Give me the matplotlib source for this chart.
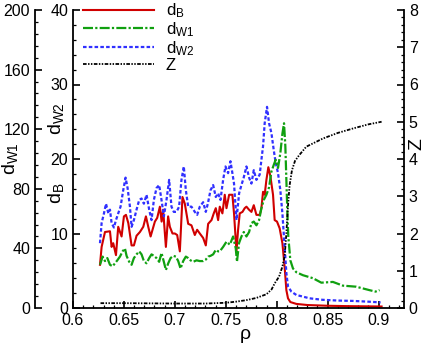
import matplotlib
matplotlib.use("Agg")
import matplotlib.pyplot as plt
from matplotlib.ticker import MultipleLocator

plt.rcParams["font.family"] = ["Liberation Sans", "DejaVu Sans"]
plt.rcParams["mathtext.default"] = "regular"

# d_B (eje interior, 0-40)
rho_b = [0.6265, 0.6281, 0.6314, 0.6363, 0.6379, 0.6395, 0.6422, 0.6444, 0.6477, 0.6500,
         0.6520, 0.6543, 0.6575, 0.6598, 0.6624, 0.6657, 0.6690, 0.6716, 0.6739, 0.6762,
         0.6804, 0.6827, 0.6853, 0.6870, 0.6885, 0.6912, 0.6934, 0.6951, 0.6977, 0.7000,
         0.7023, 0.7049, 0.7075, 0.7098, 0.7131, 0.7163, 0.7196, 0.7219, 0.7245, 0.7278,
         0.7304, 0.7327, 0.7360, 0.7382, 0.7402, 0.7425, 0.7441, 0.7467, 0.7490, 0.7507,
         0.7533, 0.7565, 0.7581, 0.7605, 0.7621, 0.7637, 0.7664, 0.7686, 0.7703, 0.7728,
         0.7752, 0.7775, 0.7801, 0.7833, 0.7850, 0.7866, 0.7882, 0.7899, 0.7918, 0.7938,
         0.7964, 0.7980, 0.8003, 0.8029, 0.8056, 0.8078, 0.8095, 0.8111, 0.8134, 0.8193,
         0.830, 0.850, 0.870, 0.903]
d_b = [5.8, 8.2, 10.2, 10.3, 8.2, 8.7, 7.1, 10.9, 9.6, 12.3,
       12.5, 11.4, 8.4, 8.4, 9.7, 10.2, 10.9, 12.3, 10.9, 9.6,
       11.6, 12.1, 13.6, 11.6, 13.2, 8.2, 12.3, 10.9, 10.0, 10.0,
       9.8, 7.6, 14.9, 14.0, 11.3, 11.1, 9.8, 10.5, 10.0, 9.4,
       8.4, 11.3, 11.8, 12.7, 13.4, 11.8, 13.6, 12.7, 15.2, 13.4,
       15.2, 15.2, 12.7, 7.6, 10.5, 12.7, 12.9, 13.4, 13.6, 13.2,
       12.9, 13.8, 12.5, 12.5, 13.4, 15.6, 15.2, 17.2, 18.9, 17.7,
       15.2, 11.8, 11.6, 10.7, 8.7, 5.5, 2.4, 1.3, 0.8, 0.55,
       0.4, 0.3, 0.25, 0.2]

# d_W2 (eje interior, 0-40)
rho_w2 = [0.6265, 0.6281, 0.6304, 0.6324, 0.6347, 0.6363, 0.6379, 0.6402, 0.6422, 0.6444,
          0.6467, 0.6493, 0.6516, 0.6536, 0.6559, 0.6575, 0.6598, 0.6624, 0.6650, 0.6673,
          0.6696, 0.6722, 0.6748, 0.6771, 0.6794, 0.6820, 0.6846, 0.6869, 0.6892, 0.6918,
          0.6944, 0.6967, 0.6990, 0.7016, 0.7042, 0.7065, 0.7088, 0.7108, 0.7131, 0.7163,
          0.7196, 0.7219, 0.7245, 0.7278, 0.7304, 0.7327, 0.7350, 0.7376, 0.7402, 0.7425,
          0.7448, 0.7474, 0.7497, 0.7523, 0.7546, 0.7565, 0.7581, 0.7605, 0.7631, 0.7654,
          0.7676, 0.7703, 0.7729, 0.7752, 0.7775, 0.7801, 0.7833, 0.7850, 0.7866, 0.7882,
          0.7905, 0.7925, 0.7948, 0.7971, 0.7990, 0.8013, 0.8036, 0.8056, 0.8078, 0.8095,
          0.8111, 0.8144, 0.8193, 0.8323, 0.845, 0.860, 0.875, 0.890, 0.902]
d_w2 = [8.7, 11.4, 12.7, 14.0, 12.7, 13.2, 11.4, 10.8, 11.8, 12.7,
        13.6, 15.8, 17.5, 16.1, 13.6, 10.9, 11.8, 13.2, 14.5, 14.7,
        14.0, 15.2, 13.2, 11.8, 14.5, 16.1, 16.5, 14.5, 12.3, 14.5,
        17.2, 13.6, 12.9, 12.9, 13.6, 17.2, 19.0, 15.8, 13.6, 13.6,
        12.9, 12.5, 13.6, 14.2, 12.9, 14.2, 15.8, 16.5, 14.9, 15.4,
        14.5, 17.2, 19.0, 18.1, 19.7, 18.1, 16.7, 11.8, 15.4, 16.5,
        17.5, 19.0, 17.5, 16.7, 18.5, 17.2, 17.9, 19.9, 21.7, 24.8,
        27.0, 24.8, 23.5, 21.2, 19.5, 18.1, 15.8, 12.7, 8.2, 4.7,
        2.9, 2.2, 1.75, 1.3, 1.1, 1.0, 0.95, 0.85, 0.75]

# d_W1 (eje exterior, 0-200)
rho_w1 = [0.6265, 0.6291, 0.6314, 0.6337, 0.6363, 0.6389, 0.6412, 0.6435, 0.6461, 0.6487,
          0.6510, 0.6526, 0.6552, 0.6575, 0.6598, 0.6624, 0.6650, 0.6673, 0.6696, 0.6722,
          0.6748, 0.6771, 0.6794, 0.6820, 0.6846, 0.6869, 0.6892, 0.6912, 0.6935, 0.6958,
          0.6984, 0.7010, 0.7033, 0.7056, 0.7082, 0.7108, 0.7131, 0.7154, 0.7180, 0.7213,
          0.7245, 0.7278, 0.7304, 0.7327, 0.7350, 0.7376, 0.7402, 0.7425, 0.7441, 0.7474,
          0.7507, 0.7540, 0.7572, 0.7598, 0.7610, 0.7630, 0.7654, 0.7677, 0.7703, 0.7729,
          0.7752, 0.7775, 0.7801, 0.7827, 0.7850, 0.7873, 0.7899, 0.7925, 0.7948, 0.7971,
          0.7990, 0.8013, 0.8036, 0.8056, 0.8072, 0.8085, 0.8095, 0.8105, 0.8114, 0.8134,
          0.8160, 0.8193, 0.8258, 0.8356, 0.8438, 0.8552, 0.865, 0.878, 0.891, 0.897, 0.901]
d_w1 = [29, 34.5, 31.5, 33.5, 29, 28, 30, 32, 34.5, 38,
        40, 35, 31, 29, 33.5, 36, 38, 36, 31.5, 30,
        33.5, 36, 35, 33.5, 31, 37, 31, 25.5, 30, 33.5,
        35, 34.5, 31.5, 26.5, 31.5, 34.5, 33.5, 32, 31, 32,
        31.5, 31.5, 32.5, 34.5, 35, 36, 39, 38, 38, 41,
        44.5, 42.5, 48, 40, 31, 43.5, 48, 51, 48, 51,
        57, 58, 55.5, 59, 67, 72.5, 76, 81, 91.5, 96,
        99.5, 94, 104, 117, 124, 108.5, 86, 63.5, 48, 32,
        26.5, 24, 22, 20, 17, 17.5, 15, 14.3, 12, 11, 12]

# Z (eje derecho, 0-8)
rho_z = [0.627, 0.65, 0.70, 0.73, 0.75, 0.76, 0.77, 0.78, 0.79, 0.795,
         0.798, 0.8023, 0.8056, 0.8078, 0.8095, 0.8111, 0.8127, 0.815, 0.818, 0.822,
         0.829, 0.8454, 0.86, 0.875, 0.89, 0.903]
z = [0.13, 0.13, 0.12, 0.12, 0.14, 0.17, 0.21, 0.27, 0.37, 0.5,
     0.66, 0.84, 1.11, 1.4, 2.0, 2.75, 3.3, 3.7, 3.95, 4.1,
     4.33, 4.55, 4.7, 4.82, 4.93, 5.0]

x_ticks = [0.6, 0.65, 0.7, 0.75, 0.8, 0.85, 0.9]
x_tick_labels = ["0.6", "0.65", "0.7", "0.75", "0.8", "0.85", "0.9"]

fig = plt.figure(figsize=(4.29, 3.5), dpi=100)
ax = fig.add_axes([73 / 429, 42 / 350, 331 / 429, 298 / 350])
ax_w1 = ax.twinx()
ax_z = ax.twinx()

tick_kw = dict(direction="in", labelsize=11.5)


def style_ticks(a):
    a.tick_params(which="both", **tick_kw)
    a.tick_params(which="major", length=5, width=1.2)
    a.tick_params(which="minor", length=2.5, width=0.9)


# Eje principal: d_B, d_W2
l_b, = ax.plot(rho_b, d_b, color="#d00000", lw=1.5, label="$d_B$")
l_w2, = ax.plot(rho_w2, d_w2, color="#3030ff", lw=1.6, dashes=(1.6, 1.0), label="$d_{W2}$")
ax.set_xlim(0.6, 0.925)
ax.set_ylim(0, 40)
ax.set_xticks(x_ticks, x_tick_labels)
ax.xaxis.set_minor_locator(MultipleLocator(0.01))
ax.yaxis.set_major_locator(MultipleLocator(10))
ax.yaxis.set_minor_locator(MultipleLocator(2))
for s in ["top", "right"]:
    ax.spines[s].set_visible(False)
for s in ["left", "bottom"]:
    ax.spines[s].set_linewidth(1.3)
style_ticks(ax)

# Eje exterior: d_W1
l_w1, = ax_w1.plot(rho_w1, d_w1, color="#10a010", lw=1.6, dashes=(4.5, 1.0, 1.0, 1.0), label="$d_{W1}$")
ax_w1.set_ylim(0, 200)
ax_w1.yaxis.set_major_locator(MultipleLocator(40))
ax_w1.yaxis.set_minor_locator(MultipleLocator(8))
ax_w1.yaxis.set_ticks_position("left")
ax_w1.spines["left"].set_position(("axes", -38 / 331))
ax_w1.spines["left"].set_visible(True)
ax_w1.spines["left"].set_linewidth(1.3)
for s in ["top", "right", "bottom"]:
    ax_w1.spines[s].set_visible(False)
style_ticks(ax_w1)

# Eje derecho: Z
l_z, = ax_z.plot(rho_z, z, color="black", lw=1.3, dashes=(2.0, 0.8, 0.8, 0.8, 0.8, 0.8), label="Z")
ax_z.set_ylim(0, 8)
ax_z.yaxis.set_major_locator(MultipleLocator(1))
ax_z.yaxis.set_minor_locator(MultipleLocator(0.2))
for s in ["top", "left", "bottom"]:
    ax_z.spines[s].set_visible(False)
ax_z.spines["right"].set_linewidth(1.3)
style_ticks(ax_z)

# Etiquetas
ax.text(-0.19, 0.50, "$d_{W1}$", transform=ax.transAxes, rotation=90,
        ha="center", va="center", fontsize=14)
ax.text(-0.052, 0.385, "$d_B$", transform=ax.transAxes, rotation=90,
        ha="center", va="center", fontsize=14)
ax.text(-0.05, 0.635, "$d_{W2}$", transform=ax.transAxes, rotation=90,
        ha="center", va="center", fontsize=14)
ax.text(1.039, 0.55, "Z", transform=ax.transAxes, rotation=90,
        ha="center", va="center", fontsize=14)
ax.text(0.52, -0.09, "ρ", transform=ax.transAxes, ha="center", va="center", fontsize=14)

ax_z.legend(handles=[l_b, l_w1, l_w2, l_z], loc="upper left", bbox_to_anchor=(0.0, 1.062),
            frameon=False, fontsize=12, handlelength=4.25, handletextpad=0.7,
            labelspacing=0.0, borderaxespad=0.2)

fig.savefig("out.png", dpi=100)
